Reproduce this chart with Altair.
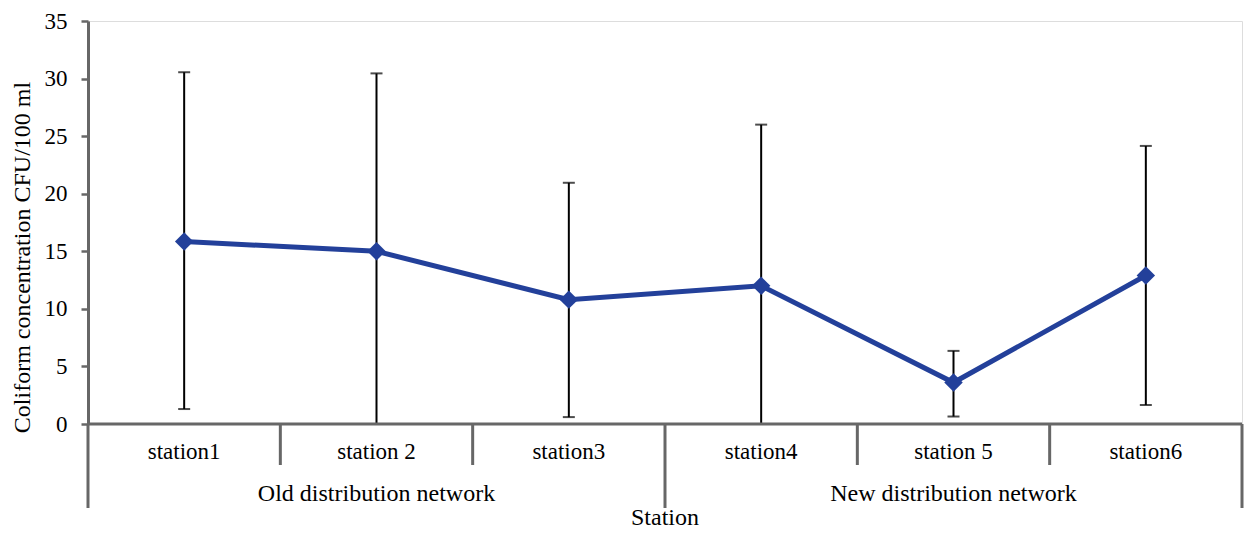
import altair as alt
import pandas as pd

stations = ["station1", "station 2", "station3", "station4", "station 5", "station6"]
groups = ["Old distribution network", "New distribution network"]
group_index = [0, 0, 0, 1, 1, 1]
means = [15.85, 15.0, 10.8, 12.0, 3.6, 12.9]
err_low = [1.3, 0.0, 0.6, 0.0, 0.65, 1.65]
err_high = [30.55, 30.45, 20.95, 26.0, 6.35, 24.15]
y_ticks = [0, 5, 10, 15, 20, 25, 30, 35]

FONT = "Liberation Serif"
AXIS_GRAY = "#676767"
LINE_BLUE = "#23409A"

pos = [i + 0.5 for i in range(len(stations))]
df = pd.DataFrame({
    "station": stations,
    "pos": pos,
    "mean": means,
    "low": err_low,
    "high": err_high,
})

grp_df = pd.DataFrame({
    "group": groups,
    "pos": [sum(p for p, g in zip(pos, group_index) if g == k) / group_index.count(k)
            for k in range(len(groups))],
})

# boundaries between categories; group boundaries get long dividers
group_bounds = {0, len(stations)}
for i in range(1, len(stations)):
    if group_index[i] != group_index[i - 1]:
        group_bounds.add(i)
div_df = pd.DataFrame({
    "b": list(range(len(stations) + 1)),
    "long": [b in group_bounds for b in range(len(stations) + 1)],
})

xscale = alt.Scale(domain=[0, len(stations)], nice=False, zero=False)
yscale = alt.Scale(domain=[0, 35], nice=False)
X = alt.X("pos:Q", scale=xscale, axis=None)

H = 403
W = 1154

err = alt.Chart(df).mark_rule(color="black", strokeWidth=2).encode(
    x=X,
    y=alt.Y("low:Q", scale=yscale,
            axis=alt.Axis(values=y_ticks, title="Coliform concentration CFU/100 ml",
                          grid=False, domainColor=AXIS_GRAY, domainWidth=3,
                          tickColor=AXIS_GRAY, tickWidth=2.5, tickSize=7,
                          labelPadding=14, labelFont=FONT, labelFontSize=23,
                          labelColor="black", titleFont=FONT, titleFontSize=24,
                          titleFontWeight="normal", titleColor="black",
                          titlePadding=10, titleY=236, titleAlign="center")),
    y2="high:Q",
)
cap_hi = alt.Chart(df).mark_tick(color="black", orient="horizontal", size=12, thickness=2).encode(
    x=X, y=alt.Y("high:Q", scale=yscale)
)
cap_lo = alt.Chart(df).transform_filter("datum.low > 0").mark_tick(
    color="black", orient="horizontal", size=12, thickness=2).encode(
    x=X, y=alt.Y("low:Q", scale=yscale)
)
line = alt.Chart(df).mark_line(color=LINE_BLUE, strokeWidth=5).encode(
    x=X, y=alt.Y("mean:Q", scale=yscale)
)
pts = alt.Chart(df).mark_point(shape="diamond", filled=True, color=LINE_BLUE,
                               size=340, opacity=1).encode(
    x=X, y=alt.Y("mean:Q", scale=yscale)
)

xaxis_line = alt.Chart(div_df).transform_aggregate(
    bmin="min(b)", bmax="max(b)"
).mark_rule(color=AXIS_GRAY, strokeWidth=3).encode(
    x=alt.X("bmin:Q", scale=xscale, axis=None), x2="bmax:Q", y=alt.value(H)
)
div_short = alt.Chart(div_df).transform_filter("!datum.long").mark_rule(
    color=AXIS_GRAY, strokeWidth=3).encode(
    x=alt.X("b:Q", scale=xscale, axis=None), y=alt.value(H), y2=alt.value(H + 41)
)
div_long = alt.Chart(div_df).transform_filter("datum.long").mark_rule(
    color=AXIS_GRAY, strokeWidth=3).encode(
    x=alt.X("b:Q", scale=xscale, axis=None), y=alt.value(H), y2=alt.value(H + 84)
)
cat_text = alt.Chart(df).mark_text(font=FONT, fontSize=23, color="black",
                                   baseline="middle", align="center").encode(
    x=X, y=alt.value(H + 28), text="station:N"
)
grp_text = alt.Chart(grp_df).mark_text(font=FONT, fontSize=24, color="black",
                                       baseline="middle", align="center").encode(
    x=alt.X("pos:Q", scale=xscale, axis=None), y=alt.value(H + 70), text="group:N"
)
title_text = alt.Chart(grp_df).transform_aggregate(
    mid="mean(pos)"
).transform_calculate(label="'Station'").mark_text(
    font=FONT, fontSize=24, color="black", baseline="middle", align="center").encode(
    x=alt.X("mid:Q", scale=xscale, axis=None), y=alt.value(H + 94), text="label:N"
)

chart = alt.layer(
    err, cap_hi, cap_lo, line, pts,
    xaxis_line, div_short, div_long, cat_text, grp_text, title_text
).properties(
    width=W, height=H,
    autosize=alt.AutoSizeParams(type="none"),
    padding={"left": 80, "top": 13, "right": 2, "bottom": 107},
).configure_view(stroke=None).configure(background="white")

chart.save("out.html", embed_options={"renderer": "svg", "actions": False})
